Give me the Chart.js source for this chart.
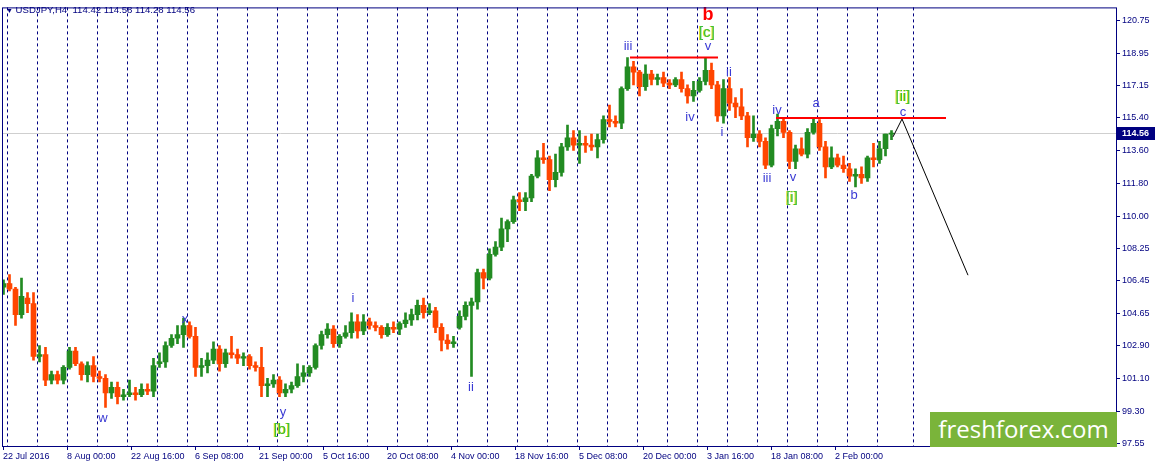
<!DOCTYPE html>
<html>
<head>
<meta charset="utf-8">
<title>USDJPY H4</title>
<script src="https://cdn.jsdelivr.net/npm/chart.js@4.4.1/dist/chart.umd.min.js"></script>
<style>
    html, body { margin: 0; padding: 0; background: #fff; }
    #wrap { position: relative; width: 1156px; height: 467px; overflow: hidden; }
    #title { position: absolute; left: 6px; top: 4px; font: 9.6px "Liberation Sans", Arial, sans-serif; color: #000080; white-space: pre; }
    #title .arrow { font-size: 7px; }
    #logo { position: absolute; left: 930px; top: 412px; width: 187px; height: 35px; background: #7ab43a;
            color: #fff; font: 24px "Open Sans", sans-serif; line-height: 34px; text-align: center; }
</style>
</head>
<body>
<div id="wrap">
    <canvas id="chart" width="1156" height="467"></canvas>
    <div id="title"><span class="arrow">▼</span> USDJPY,H4  114.42 114.58 114.28 114.56</div>
    <div id="logo">freshforex.com</div>
</div>
<script>
// daily OHLC, 22 Jul 2016 .. 15 Feb 2017 (one value per trading day)
const opens = [
    106.1,106.3,106.0,104.6,105.5,105.2,102.3,102.4,101.0,101.3,
    101.0,101.7,102.6,101.9,101.3,101.8,101.2,101.1,100.3,100.6,
    100.1,100.2,100.3,100.2,100.5,100.4,101.9,102.0,102.9,103.3,
    103.5,104.0,103.4,101.7,101.8,102.1,102.7,101.9,102.5,102.4,
    102.2,102.3,101.8,101.7,100.7,100.8,101.0,100.3,100.5,100.7,
    101.2,101.4,101.7,102.9,103.5,103.8,103.0,103.4,103.6,104.2,
    103.7,104.2,104.0,103.9,103.5,103.9,103.8,104.1,104.3,104.6,
    105.1,104.7,104.8,103.9,103.2,103.0,103.9,104.5,105.1,105.3,
    106.9,106.6,107.9,108.3,109.3,109.7,110.9,110.8,111.0,112.2,
    113.2,113.1,112.0,112.4,113.8,114.3,113.9,114.0,113.9,113.8,
    114.2,115.3,115.2,115.1,117.0,118.2,117.9,117.1,117.8,117.5,
    117.6,117.3,117.2,117.5,117.0,116.6,116.9,117.4,118.0,117.2,
    115.5,117.0,116.2,116.0,115.5,114.3,114.5,114.1,112.8,114.8,
    115.2,114.6,113.0,113.7,113.4,114.6,115.1,113.8,112.7,113.2,
    112.8,112.6,112.2,112.3,112.1,113.2,113.1,113.7,114.5
];
const highs = [
    106.5,106.8,106.1,106.6,105.8,105.8,102.9,102.8,101.5,101.5,
    101.8,102.8,102.8,102.0,102.0,102.3,101.5,101.3,100.9,100.9,
    100.5,101.0,100.6,100.8,100.8,102.2,102.5,103.1,103.5,104.0,
    104.4,104.2,103.9,102.2,102.5,103.1,102.9,102.7,103.4,102.7,
    102.5,102.4,102.0,102.8,101.1,101.3,101.2,100.8,100.9,101.9,
    101.8,101.8,103.0,103.7,104.1,104.0,103.5,104.0,104.7,104.6,
    104.6,104.4,104.2,104.0,104.1,104.2,104.2,104.7,104.9,105.4,
    105.5,105.2,105.0,104.1,103.5,103.4,104.8,105.3,105.5,107.1,
    107.1,108.2,108.6,109.9,109.8,111.1,111.3,111.3,112.3,113.6,
    114.0,113.3,113.4,114.0,115.0,114.7,114.7,114.4,114.5,114.5,
    115.5,116.1,115.5,117.1,118.7,118.5,118.0,118.3,118.0,117.8,
    117.9,117.5,117.6,117.9,117.2,117.4,117.6,118.7,118.4,117.4,
    117.5,117.6,116.5,117.0,115.7,115.5,114.7,114.3,115.0,115.6,
    115.4,114.7,113.9,114.3,114.8,115.4,115.3,114.1,113.8,113.4,
    113.3,112.9,112.6,112.7,113.3,114.0,114.1,114.5,114.7
];
const lows = [
    105.7,105.9,104.0,104.4,104.7,102.1,102.0,100.7,100.8,100.8,
    100.8,101.6,101.8,101.0,100.9,100.9,100.9,99.5,100.0,99.7,
    99.9,100.1,99.9,100.1,100.2,100.1,101.7,101.7,102.8,103.0,
    102.8,103.3,101.2,101.2,101.4,101.9,101.5,101.7,102.2,101.9,
    101.8,101.6,101.5,100.1,100.1,100.6,100.1,100.1,100.3,100.6,
    100.9,101.2,101.6,102.7,103.3,102.8,102.8,103.3,103.3,103.3,
    103.5,103.8,103.7,103.3,103.4,103.6,103.5,103.9,104.0,104.3,
    104.4,104.6,103.6,102.6,102.7,102.8,103.8,104.3,101.2,104.9,
    106.0,106.5,107.8,108.1,108.6,109.6,110.3,110.3,110.8,112.1,
    112.9,111.4,111.6,112.2,113.6,113.6,112.9,113.5,113.6,113.2,
    114.0,114.9,114.9,114.8,116.9,117.2,116.6,116.9,117.2,117.2,
    117.1,117.0,117.1,116.8,116.2,116.3,116.8,117.2,117.0,115.2,
    115.1,115.8,115.4,115.3,113.8,114.1,113.8,112.6,112.7,114.4,
    114.3,112.6,112.6,113.3,113.2,114.5,113.6,112.1,112.6,112.7,
    112.4,111.9,111.6,111.8,111.9,112.7,112.9,113.3,114.2
];
const closes = [
    106.3,106.0,104.6,105.6,105.2,102.3,102.4,101.0,101.3,101.0,
    101.7,102.6,101.9,101.3,101.8,101.2,101.1,100.3,100.6,100.1,
    100.2,100.3,100.2,100.5,100.4,101.8,102.0,102.9,103.3,103.5,
    104.0,103.4,101.7,101.8,102.1,102.7,101.9,102.5,102.4,102.2,
    102.3,101.8,101.7,100.7,100.8,101.0,100.3,100.5,100.7,101.2,
    101.4,101.7,102.9,103.5,103.8,103.0,103.4,103.6,104.2,103.7,
    104.2,104.0,103.9,103.5,103.9,103.8,104.1,104.3,104.6,105.1,
    104.7,104.8,103.9,103.2,103.0,103.1,104.5,105.1,105.3,106.9,
    106.6,107.9,108.3,109.3,109.7,110.9,110.8,111.0,112.2,113.2,
    113.1,112.0,112.4,113.8,114.3,113.9,114.0,113.9,113.8,114.2,
    115.3,115.2,115.1,117.0,118.2,117.9,117.1,117.8,117.5,117.6,
    117.3,117.2,117.5,117.0,116.6,116.9,117.4,118.0,117.2,115.5,
    117.0,116.2,116.0,115.5,114.3,114.5,114.1,112.8,114.8,115.2,
    114.6,113.0,113.7,113.4,114.6,115.1,113.8,112.7,113.2,112.8,
    112.6,112.2,112.3,112.1,113.2,113.1,113.7,114.5,114.56
];

// x axis is counted in H4 bars (6 per trading day), bar 0 = 22 Jul 2016 00:00
const barsPerDay = 6;
const xTickLabels = [
    "22 Jul 2016", "8 Aug 00:00", "22 Aug 16:00", "6 Sep 08:00", "21 Sep 00:00",
    "5 Oct 16:00", "20 Oct 08:00", "4 Nov 00:00", "18 Nov 16:00", "5 Dec 08:00",
    "20 Dec 00:00", "3 Jan 16:00", "18 Jan 08:00", "2 Feb 00:00"
];
const xTickBars = [2, 66, 130, 194, 258, 322, 386, 450, 514, 578, 642, 706, 770, 834];
const yTicks = [120.75, 118.95, 117.15, 115.40, 113.60, 111.80, 110.00, 108.25,
                106.45, 104.65, 102.90, 101.10, 99.30, 97.55];

// horizontal resistance levels and the projected path
const topLevelBars = [629, 717];
const topLevelPrice = [118.71, 118.71];
const neckLevelBars = [775, 945];
const neckLevelPrice = [115.38, 115.38];
const forecastBars = [892, 901, 967];
const forecastPrice = [114.35, 115.33, 106.76];

// wave labels
const waveText  = ["w", "x", "y", "[b]", "i", "ii", "iii", "b", "[c]", "v", "iv", "i", "ii",
                   "iii", "iv", "v", "[i]", "a", "b", "[ii]", "c"];
const waveBar   = [102, 184, 282, 281, 352, 470, 627, 707, 706, 707, 689, 721, 728,
                   766, 776, 792, 791, 815, 853, 902, 902];
const wavePrice = [98.90, 104.33, 99.23, 98.25, 105.46, 100.59, 119.29, 121.02, 120.05, 119.29, 115.44, 114.62, 117.88,
                   112.08, 115.82, 112.13, 110.99, 116.20, 111.16, 116.52, 115.71];
const waveKind  = ["minor", "minor", "minor", "bracket", "minor", "minor", "minor", "major", "bracket", "minor", "minor", "minor", "minor",
                   "minor", "minor", "minor", "bracket", "minor", "minor", "bracket", "minor"];

const NAVY = "#000080";
const UP = "#228b22";
const DOWN = "#ff4500";
const FONT = '"Liberation Sans", Arial, sans-serif';

Chart.defaults.font.family = FONT;
Chart.defaults.font.size = 9;
Chart.defaults.color = NAVY;

const dayBar = opens.map((_, i) => i * barsPerDay + 2.5);
const candleColors = opens.map((o, i) => (closes[i] >= o ? UP : DOWN));
const lastPrice = closes[closes.length - 1];

// weekly separators sit on each Monday (trading day 1, 6, 11 ...) plus the current week
const weekBars = opens.map((_, i) => i).filter(i => i % 5 === 1).map(i => i * barsPerDay);
weekBars.push(912);

const decor = {
    id: "decor",
    beforeDatasetsDraw(chart) {
        const { ctx, chartArea: a, scales: { x, y } } = chart;
        ctx.save();
        ctx.strokeStyle = NAVY;
        ctx.lineWidth = 1;
        ctx.setLineDash([3, 3]);
        weekBars.forEach((b) => {
            const px = Math.round(x.getPixelForValue(b)) + 0.5;
            ctx.beginPath();
            ctx.moveTo(px, a.top);
            ctx.lineTo(px, a.bottom);
            ctx.stroke();
        });
        ctx.setLineDash([]);
        const py = Math.round(y.getPixelForValue(lastPrice)) + 0.5;
        ctx.strokeStyle = "#cfcfcf";
        ctx.beginPath();
        ctx.moveTo(a.left, py);
        ctx.lineTo(a.right, py);
        ctx.stroke();
        ctx.restore();
    },
    afterDatasetsDraw(chart) {
        const { ctx, scales: { x, y } } = chart;
        ctx.save();
        ctx.textAlign = "center";
        ctx.textBaseline = "middle";
        waveText.forEach((t, i) => {
            const px = x.getPixelForValue(waveBar[i]);
            const py = y.getPixelForValue(wavePrice[i]);
            if (waveKind[i] === "major") {
                ctx.font = "bold 18px " + FONT;
                ctx.fillStyle = "#ff0000";
                ctx.fillText(t, px, py);
            } else if (waveKind[i] === "bracket") {
                ctx.font = "15px " + FONT;
                ctx.fillStyle = "#e0e020";
                ctx.fillText(t, px - 1, py);
                ctx.fillStyle = "#3cbf3c";
                ctx.fillText(t, px, py);
            } else {
                ctx.font = "13px " + FONT;
                ctx.fillStyle = "#3a3ad4";
                ctx.fillText(t, px, py);
            }
        });
        ctx.restore();
    },
    afterDraw(chart) {
        const { ctx, chartArea: a, scales: { y } } = chart;
        ctx.save();
        ctx.strokeStyle = NAVY;
        ctx.lineWidth = 1;
        ctx.strokeRect(a.left + 0.5, a.top + 0.5, a.right - a.left, a.bottom - a.top);
        const py = Math.round(y.getPixelForValue(lastPrice));
        ctx.fillStyle = NAVY;
        ctx.fillRect(a.right + 1, py - 6, 38, 13);
        ctx.fillStyle = "#fff";
        ctx.font = "bold 9px " + FONT;
        ctx.textAlign = "left";
        ctx.textBaseline = "middle";
        ctx.fillText(lastPrice.toFixed(2), a.right + 6, py + 0.5);
        ctx.restore();
    }
};

const ctx = document.getElementById("chart").getContext("2d");
new Chart(ctx, {
    type: "bar",
    data: {
        datasets: [
            {
                label: "range",
                data: opens.map((_, i) => ({ x: dayBar[i], y: [lows[i], highs[i]] })),
                backgroundColor: candleColors,
                barThickness: 2,
                grouped: false,
                order: 3
            },
            {
                label: "body",
                data: opens.map((o, i) => ({ x: dayBar[i], y: [o, closes[i]] })),
                backgroundColor: candleColors,
                barThickness: 5,
                minBarLength: 1,
                grouped: false,
                order: 2
            },
            {
                type: "line",
                label: "top",
                data: topLevelBars.map((b, i) => ({ x: b, y: topLevelPrice[i] })),
                borderColor: "#ff0000",
                borderWidth: 2,
                pointRadius: 0,
                order: 1
            },
            {
                type: "line",
                label: "neck",
                data: neckLevelBars.map((b, i) => ({ x: b, y: neckLevelPrice[i] })),
                borderColor: "#ff0000",
                borderWidth: 2,
                pointRadius: 0,
                order: 1
            },
            {
                type: "line",
                label: "forecast",
                data: forecastBars.map((b, i) => ({ x: b, y: forecastPrice[i] })),
                borderColor: "#000000",
                borderWidth: 1,
                pointRadius: 0,
                order: 0
            }
        ]
    },
    options: {
        responsive: false,
        animation: false,
        events: [],
        layout: { padding: { left: 2, top: 2, right: 0, bottom: 0 } },
        plugins: { legend: { display: false }, tooltip: { enabled: false } },
        scales: {
            x: {
                type: "linear",
                min: 1,
                max: 1115,
                offset: false,
                grid: { drawOnChartArea: false, tickLength: 4, color: NAVY, offset: false },
                border: { display: false },
                ticks: {
                    autoSkip: false,
                    maxRotation: 0,
                    align: "start",
                    padding: 1,
                    color: NAVY,
                    callback: (v, i) => xTickLabels[i]
                },
                afterBuildTicks: (s) => { s.ticks = xTickBars.map((v) => ({ value: v })); },
                afterFit: (s) => { s.height = 21; }
            },
            y: {
                position: "right",
                min: 97.387,
                max: 121.455,
                grid: { drawOnChartArea: false, tickLength: 4, color: NAVY },
                border: { display: false },
                ticks: { padding: 2, color: NAVY, callback: (v) => Number(v).toFixed(2) },
                afterBuildTicks: (s) => { s.ticks = yTicks.map((v) => ({ value: v })); },
                afterFit: (s) => { s.width = 40; }
            }
        }
    },
    plugins: [decor]
});
</script>
</body>
</html>
